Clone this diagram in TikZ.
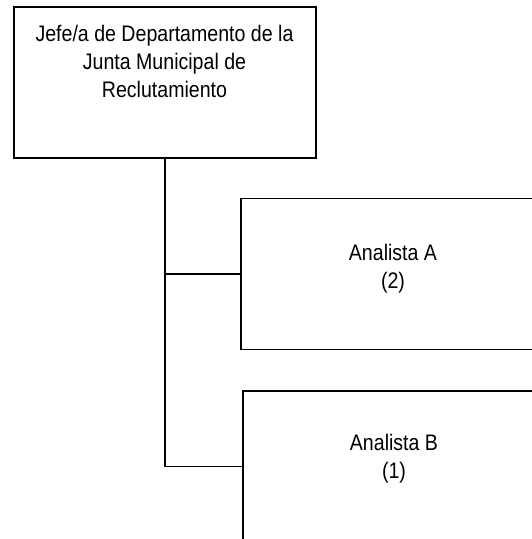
\documentclass[tikz,border=0pt]{standalone}
\usepackage{fontspec}
\setmainfont{Liberation Sans}[FakeStretch=0.87]
\begin{document}
\begin{tikzpicture}[x=1pt,y=-1pt,
  box/.style={draw=black,line width=1.6pt,rectangle,minimum width=302pt,minimum height=151pt,inner sep=0pt,outer sep=0pt},
  lbl/.style={align=center,inner sep=0pt,anchor=north,font=\fontsize{22.5pt}{28pt}\selectfont},
  conn/.style={draw=black,line width=1.6pt}]
\useasboundingbox (0,0) rectangle (532,539);
\clip (0,0) rectangle (532,539);
\node[box] (top) at (165,82.75) {};
\node[box] (A) at (391.7,273.8) {};
\node[box] (B) at (393.7,466.5) {};
\node[lbl] (tTop) at (164.5,24.6) {Jefe/a de Departamento de la\\Junta Municipal de\\Reclutamiento};
\node[lbl] (tA) at (393,243.9) {Analista A\\(2)};
\node[lbl] (tB) at (394,434) {Analista B\\(1)};
\draw[conn] (top.south) |- (A.west);
\draw[conn] (top.south) |- (B.west);
\end{tikzpicture}
\end{document}
